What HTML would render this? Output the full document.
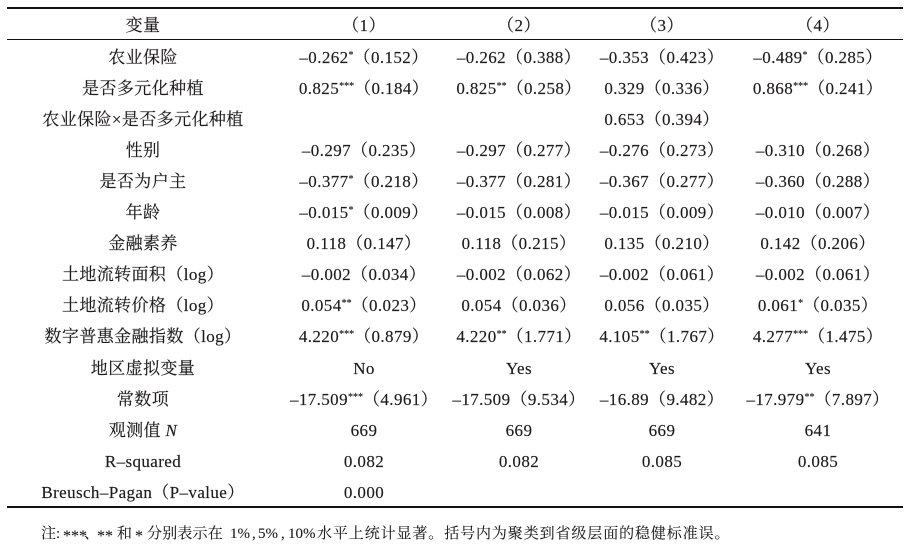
<!DOCTYPE html>
<html>
<head>
<meta charset="utf-8">
<style>
html,body{margin:0;padding:0;}
body{width:916px;height:548px;background:#fff;position:relative;overflow:hidden;font-family:"Liberation Serif","Noto Serif CJK SC",serif;color:#1e1a1b;}
.r{position:absolute;left:0;width:916px;height:20px;line-height:20px;font-size:17px;}
.c{position:absolute;top:0;width:240px;text-align:center;white-space:nowrap;letter-spacing:0.4px;-webkit-text-stroke:0.15px #1e1a1b;}
.c0{left:23px;}
.c1{left:244px;}
.c2{left:399px;}
.c3{left:542px;}
.c4{left:698px;}
sup{font-size:10px;vertical-align:0;position:relative;top:-5px;line-height:0;letter-spacing:0;}
.ln{position:absolute;left:7px;width:896px;background:#111;}
.n{position:absolute;top:524px;font-size:15px;line-height:20px;white-space:nowrap;font-family:"Liberation Serif","Noto Serif CJK SC",serif;-webkit-text-stroke:0.1px #1e1a1b;}
.st{font-size:16px;top:527px;letter-spacing:0;}
</style>
</head>
<body>
<div class="ln" style="top:7px;height:2px;"></div>
<div class="ln" style="top:39px;height:1px;"></div>
<div class="ln" style="top:506px;height:2px;"></div>

<div class="r" style="top:16px;"><div class="c c0">变量</div><div class="c c1">（1）</div><div class="c c2">（2）</div><div class="c c3">（3）</div><div class="c c4">（4）</div></div>

<div class="r" style="top:47.5px;"><div class="c c0">农业保险</div><div class="c c1">–0.262<sup>*</sup>（0.152）</div><div class="c c2">–0.262（0.388）</div><div class="c c3">–0.353（0.423）</div><div class="c c4">–0.489<sup>*</sup>（0.285）</div></div>

<div class="r" style="top:78.6px;"><div class="c c0">是否多元化种植</div><div class="c c1">0.825<sup>***</sup>（0.184）</div><div class="c c2">0.825<sup>**</sup>（0.258）</div><div class="c c3">0.329（0.336）</div><div class="c c4">0.868<sup>***</sup>（0.241）</div></div>

<div class="r" style="top:109.6px;"><div class="c c0">农业保险×是否多元化种植</div><div class="c c1"></div><div class="c c2"></div><div class="c c3">0.653（0.394）</div><div class="c c4"></div></div>

<div class="r" style="top:140.7px;"><div class="c c0">性别</div><div class="c c1">–0.297（0.235）</div><div class="c c2">–0.297（0.277）</div><div class="c c3">–0.276（0.273）</div><div class="c c4">–0.310（0.268）</div></div>

<div class="r" style="top:171.8px;"><div class="c c0">是否为户主</div><div class="c c1">–0.377<sup>*</sup>（0.218）</div><div class="c c2">–0.377（0.281）</div><div class="c c3">–0.367（0.277）</div><div class="c c4">–0.360（0.288）</div></div>

<div class="r" style="top:202.9px;"><div class="c c0">年龄</div><div class="c c1">–0.015<sup>*</sup>（0.009）</div><div class="c c2">–0.015（0.008）</div><div class="c c3">–0.015（0.009）</div><div class="c c4">–0.010（0.007）</div></div>

<div class="r" style="top:233.9px;"><div class="c c0">金融素养</div><div class="c c1">0.118（0.147）</div><div class="c c2">0.118（0.215）</div><div class="c c3">0.135（0.210）</div><div class="c c4">0.142（0.206）</div></div>

<div class="r" style="top:265px;"><div class="c c0">土地流转面积（log）</div><div class="c c1">–0.002（0.034）</div><div class="c c2">–0.002（0.062）</div><div class="c c3">–0.002（0.061）</div><div class="c c4">–0.002（0.061）</div></div>

<div class="r" style="top:296.1px;"><div class="c c0">土地流转价格（log）</div><div class="c c1">0.054<sup>**</sup>（0.023）</div><div class="c c2">0.054（0.036）</div><div class="c c3">0.056（0.035）</div><div class="c c4">0.061<sup>*</sup>（0.035）</div></div>

<div class="r" style="top:327.2px;"><div class="c c0">数字普惠金融指数（log）</div><div class="c c1">4.220<sup>***</sup>（0.879）</div><div class="c c2">4.220<sup>**</sup>（1.771）</div><div class="c c3">4.105<sup>**</sup>（1.767）</div><div class="c c4">4.277<sup>***</sup>（1.475）</div></div>

<div class="r" style="top:358.5px;"><div class="c c0">地区虚拟变量</div><div class="c c1">No</div><div class="c c2">Yes</div><div class="c c3">Yes</div><div class="c c4">Yes</div></div>

<div class="r" style="top:390px;"><div class="c c0">常数项</div><div class="c c1">–17.509<sup>***</sup>（4.961）</div><div class="c c2">–17.509（9.534）</div><div class="c c3">–16.89（9.482）</div><div class="c c4">–17.979<sup>**</sup>（7.897）</div></div>

<div class="r" style="top:421.2px;"><div class="c c0">观测值 <i>N</i></div><div class="c c1">669</div><div class="c c2">669</div><div class="c c3">669</div><div class="c c4">641</div></div>

<div class="r" style="top:452.3px;"><div class="c c0">R–squared</div><div class="c c1">0.082</div><div class="c c2">0.082</div><div class="c c3">0.085</div><div class="c c4">0.085</div></div>

<div class="r" style="top:483.4px;"><div class="c c0">Breusch–Pagan（P–value）</div><div class="c c1">0.000</div><div class="c c2"></div><div class="c c3"></div><div class="c c4"></div></div>

<div class="n" style="left:41px;">注</div>
<div class="n" style="left:56px;">:</div>
<div class="n st" style="left:63px;">***</div>
<div class="n" style="left:84px;">、</div>
<div class="n st" style="left:97px;">**</div>
<div class="n" style="left:117px;">和</div>
<div class="n st" style="left:135px;">*</div>
<div class="n" style="left:147px;letter-spacing:0.2px;">分别表示在</div>
<div class="n" style="left:230px;">1%</div>
<div class="n" style="left:252px;">,</div>
<div class="n" style="left:258px;">5%</div>
<div class="n" style="left:281px;">,</div>
<div class="n" style="left:288px;">10%</div>
<div class="n" style="left:317px;letter-spacing:0.9px;">水平上统计显著。括号内为聚类到省级层面的稳健标准误。</div>
</body>
</html>
